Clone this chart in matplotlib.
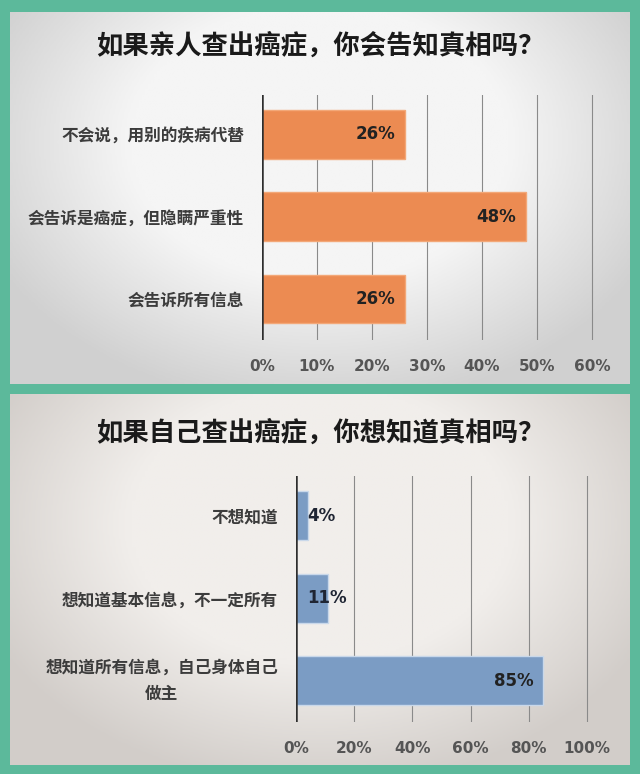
import numpy as np
import matplotlib
matplotlib.use('Agg')
import matplotlib.pyplot as plt
from matplotlib.colors import LinearSegmentedColormap

plt.rcParams['font.family'] = ['Noto Sans CJK SC', 'DejaVu Sans']

# data
title_top = '如果亲人查出癌症，你会告知真相吗？'
labels_top = ['不会说，用别的疾病代替', '会告诉是癌症，但隐瞒严重性', '会告诉所有信息']
values_top = [26, 48, 26]
ticks_top = [0, 10, 20, 30, 40, 50, 60]

title_bot = '如果自己查出癌症，你想知道真相吗？'
labels_bot = ['不想知道', '想知道基本信息，不一定所有', '想知道所有信息，自己身体自己\n做主']
values_bot = [4, 11, 85]
ticks_bot = [0, 20, 40, 60, 80, 100]

W, H = 640, 774
fig = plt.figure(figsize=(W / 100, H / 100), dpi=100, facecolor='#5cb99b')


def rect(x0, y0, x1, y1):
    # pixel box (top-left origin) -> figure fraction
    return [x0 / W, 1 - y1 / H, (x1 - x0) / W, (y1 - y0) / H]


def panel_bg(box, light, dark):
    ax = fig.add_axes(rect(*box))
    yy, xx = np.mgrid[-1:1:200j, -1:1:200j]
    r = np.clip(np.sqrt((xx * 0.85) ** 2 + ((yy + 0.3) * 0.7) ** 2), 0, 1)
    cmap = LinearSegmentedColormap.from_list('bg', [light, light, dark])
    ax.imshow(r, cmap=cmap, aspect='auto', extent=[0, 1, 0, 1], vmin=0, vmax=1.05)
    ax.set_axis_off()


panel_bg((10, 12, 630, 384), '#f5f5f5', '#cdcdcd')
panel_bg((10, 394, 630, 765), '#f1eeeb', '#cfcac6')


def bar_panel(x0, x_end, y0, y1, labels, values, ticks, color, edge, pad_px):
    # x_end: pixel position of the last tick; axes extends a little beyond it
    span = ticks[-1] - ticks[0]
    px_per_unit = (x_end - x0) / span
    extra = 4
    ax = fig.add_axes(rect(x0, y0, x_end + extra, y1))
    ax.patch.set_alpha(0)
    y = np.arange(len(values))
    ax.barh(y, values, height=0.59, color=color, edgecolor=edge, linewidth=1, zorder=3)
    ax.set_xlim(ticks[0], ticks[-1] + extra / px_per_unit)
    ax.set_ylim(2.5, -0.48)
    for t in ticks[1:]:
        ax.axvline(t, color='#8a8a8a', lw=0.8, zorder=1)
    ax.axvline(0, color='#2e2e2e', lw=1.8, zorder=4)
    for s in ax.spines.values():
        s.set_visible(False)
    ax.set_yticks(y)
    ax.set_yticklabels(labels, fontsize=12, color='#3c3c3c', fontweight='bold',
                       multialignment='center', linespacing=1.6)
    for tl in ax.get_yticklabels():
        tl.set_va('center' if '\n' in tl.get_text() else 'center_baseline')
    ax.tick_params(axis='y', length=0, pad=pad_px * 0.72)
    ax.set_xticks(ticks)
    ax.set_xticklabels([f'{t}%' for t in ticks], fontsize=11, color='#555555',
                       fontweight='bold', family='DejaVu Sans')
    ax.tick_params(axis='x', length=0, pad=14)
    for yi, v in zip(y, values):
        if v * px_per_unit < 45:
            ax.text(11 / px_per_unit, yi, f'{v}%', ha='left', va='center', fontsize=12,
                    fontweight='bold', color='#1f2533', family='DejaVu Sans', zorder=5)
        else:
            ax.text(v - 10 / px_per_unit, yi, f'{v}%', ha='right', va='center', fontsize=12,
                    fontweight='bold', color='#222222', family='DejaVu Sans', zorder=5)
    return ax


bar_panel(262, 592, 95, 340, labels_top, values_top, ticks_top, '#ec8b52', '#f3a878', 18)
bar_panel(296, 587, 476, 722, labels_bot, values_bot, ticks_bot, '#7b9cc4', '#c9d8ea', 18)

fig.text(320 / W, 1 - 46 / H, title_top, ha='center', va='center', fontsize=19,
         fontweight='heavy', color='#1a1a1a')
fig.text(320 / W, 1 - 433 / H, title_bot, ha='center', va='center', fontsize=19,
         fontweight='heavy', color='#1a1a1a')

fig.savefig('out.png', dpi=100, facecolor=fig.get_facecolor())
